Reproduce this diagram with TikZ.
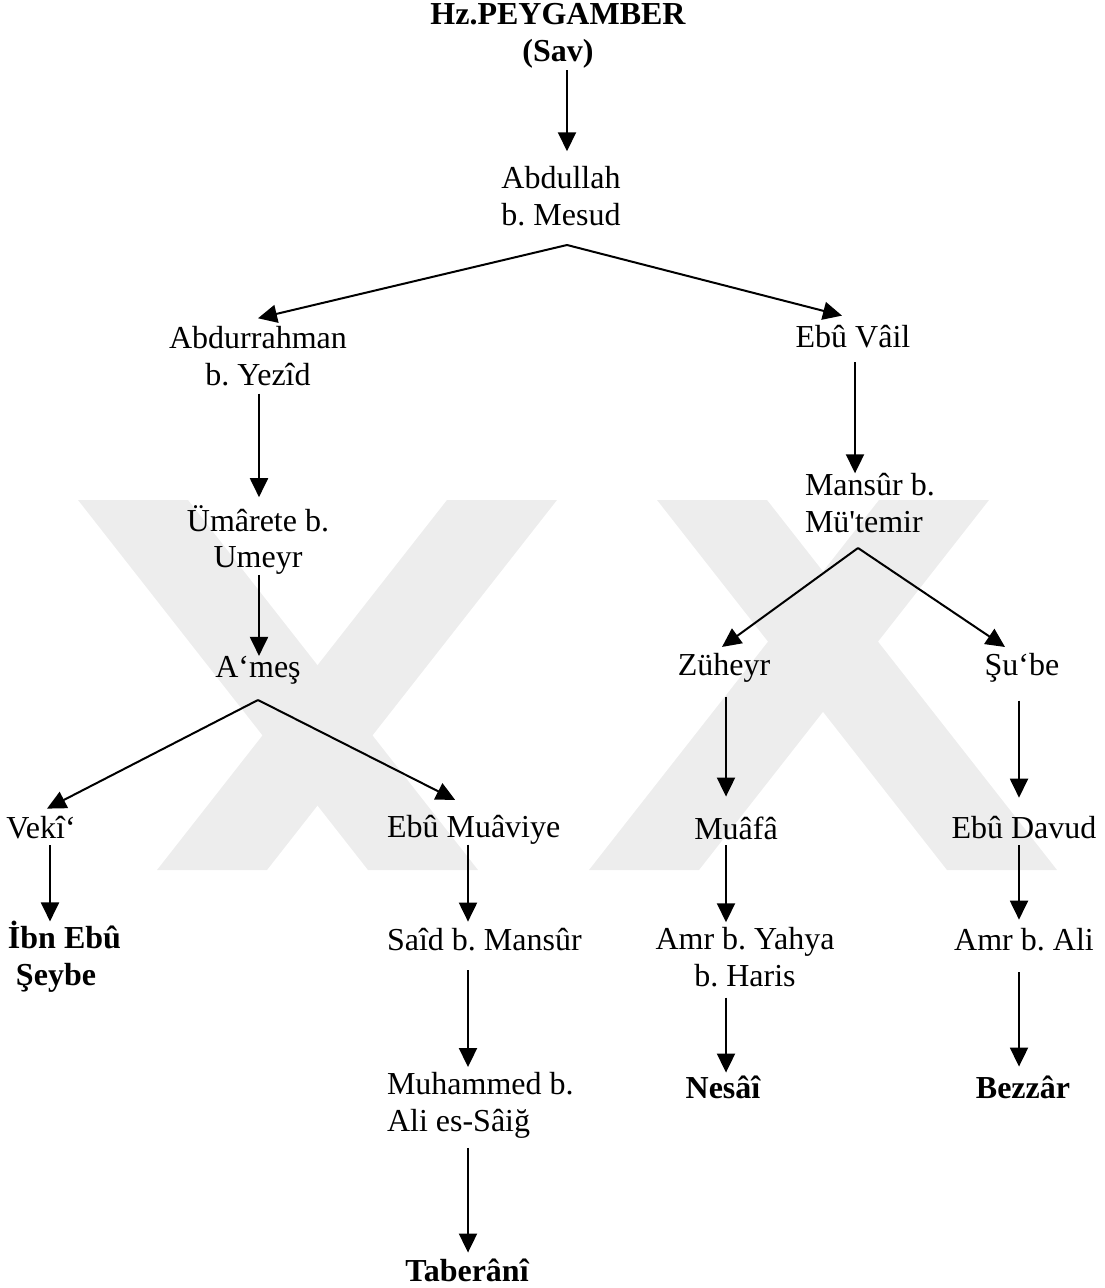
\documentclass[tikz,border=0pt]{standalone}
\usepackage{fontspec}
\setmainfont{Liberation Serif}[Ligatures=TeXOff]
\frenchspacing
\usetikzlibrary{arrows.meta}

\tikzset{
  narrator/.style={inner sep=0pt, outer sep=0pt, align=center,
                   font=\fontsize{16pt}{18.4pt}\selectfont},
  source/.style={narrator, font=\fontsize{16pt}{18.4pt}\selectfont\bfseries},
  arr/.style={-{Triangle[width=9pt,length=9.5pt]}, line width=1pt},
  wmark/.style={fill=black!7}
}

\begin{document}
\begin{tikzpicture}[x=0.5pt, y=-0.5pt]
            \useasboundingbox (0,0) rectangle (1104,1288);
            % watermark behind the tree
            \fill[wmark] (78,500) -- (188,500) -- (478,870) -- (368,870) -- cycle;
            \fill[wmark] (447,500) -- (557,500) -- (267,870) -- (157,870) -- cycle;
            \fill[wmark] (657,500) -- (767,500) -- (1057,870) -- (947,870) -- cycle;
            \fill[wmark] (879,500) -- (989,500) -- (699,870) -- (589,870) -- cycle;
            % columns of the vertical arrows
            \coordinate (colA) at (50,0);
            \coordinate (colB) at (259,0);
            \coordinate (colC) at (468,0);
            \coordinate (colD) at (567,0);
            \coordinate (colE) at (726,0);
            \coordinate (colF) at (855,0);
            \coordinate (colG) at (1019,0);
            % forks
            \coordinate (abdfork) at (567,245);
            \coordinate (amesfork) at (258,700);
            \coordinate (mansurfork) at (858,548);

            \node[source] (peygamber) at (558,36) {Hz.PEYGAMBER\\(Sav)};
            \node[narrator] (abdullah) at (561,196) {Abdullah\\b. Mesud};
            \node[narrator] (abdurrahman) at (258,356) {Abdurrahman\\b. Yezîd};
            \node[narrator] (ebuvail) at (853,337) {Ebû Vâil};
            \node[narrator] (umarete) at (258,540) {Ümârete b.\\Umeyr};
            \node[narrator, anchor=west, align=left] (mansur) at (805,503) {Mansûr b.\\Mü'temir};
            \node[narrator] (ames) at (258,670) {A‘meş};
            \node[narrator] (zuheyr) at (724,668) {Züheyr};
            \node[narrator] (sube) at (1022,668) {Şu‘be};
            \node[narrator] (veki) at (41,828) {Vekî‘};
            \node[narrator, anchor=west] (ebumuaviye) at (387,830) {Ebû Muâviye};
            \node[narrator] (muafa) at (736,828) {Muâfâ};
            \node[narrator] (ebudavud) at (1024,828) {Ebû Davud};
            \node[source, anchor=west, align=left] (ibnebu) at (8,957) {İbn Ebû\\~Şeybe};
            \node[narrator, anchor=west] (said) at (387,940) {Saîd b. Mansûr};
            \node[narrator] (amryahya) at (745,957) {Amr b. Yahya\\b. Haris};
            \node[narrator] (amrali) at (1024,940) {Amr b. Ali};
            \node[narrator, anchor=west, align=left] (muhammed) at (387,1105) {Muhammed b.\\Ali es-Sâiğ};
            \node[source] (nesai) at (723,1087) {Nesâî};
            \node[source] (bezzar) at (1023,1087) {Bezzâr};
            \node[source] (taberani) at (467,1270) {Taberânî};

            \draw[arr, shorten <=1pt, shorten >=7.5pt] (peygamber.south -| colD) -- (abdullah.north -| colD);
            \draw[arr] (abdfork) -- ([yshift=4pt]abdurrahman.north);
            \draw[arr] (abdfork) -- ([xshift=-5.5pt, yshift=5pt]ebuvail.north);
            \draw[arr, shorten <=4pt, shorten >=4pt] (abdurrahman.south -| colB) -- (umarete.north -| colB);
            \draw[arr, shorten <=0pt, shorten >=0pt] (umarete.south -| colB) -- (ames.north -| colB);
            \draw[arr, shorten <=7pt, shorten >=0pt] (ebuvail.south -| colF) -- (mansur.north -| colF);
            \draw[arr] (amesfork) -- ([xshift=3pt, yshift=4pt]veki.north);
            \draw[arr] (amesfork) -- ([xshift=-9.25pt, yshift=7.75pt]ebumuaviye.north);
            \draw[arr] (mansurfork) -- ([xshift=-1pt, yshift=3.25pt]zuheyr.north);
            \draw[arr] (mansurfork) -- ([xshift=-8.5pt, yshift=3.25pt]sube.north);
            \draw[arr, shorten <=7pt, shorten >=10pt] (zuheyr.south -| colE) -- (muafa.north -| colE);
            \draw[arr, shorten <=9pt, shorten >=9.5pt] (sube.south -| colG) -- (ebudavud.north -| colG);
            \draw[arr, shorten <=3pt, shorten >=0pt] (veki.south -| colA) -- (ibnebu.north -| colA);
            \draw[arr, shorten <=0pt, shorten >=3.5pt] (ebumuaviye.south -| colC) -- (said.north -| colC);
            \draw[arr, shorten <=3pt, shorten >=2.5pt] (muafa.south -| colE) -- (amryahya.north -| colE);
            \draw[arr, shorten <=3pt, shorten >=4.5pt] (ebudavud.south -| colG) -- (amrali.north -| colG);
            \draw[arr, shorten <=9.5pt, shorten >=2.5pt] (said.south -| colC) -- (muhammed.north -| colC);
            \draw[arr, shorten <=5.5pt, shorten >=1.5pt] (amryahya.south -| colE) -- (nesai.north -| colE);
            \draw[arr, shorten <=10.5pt, shorten >=4.5pt] (amrali.south -| colG) -- (bezzar.north -| colG);
            \draw[arr, shorten <=5pt, shorten >=3pt] (muhammed.south -| colC) -- (taberani.north -| colC);
        \end{tikzpicture}
\end{document}
